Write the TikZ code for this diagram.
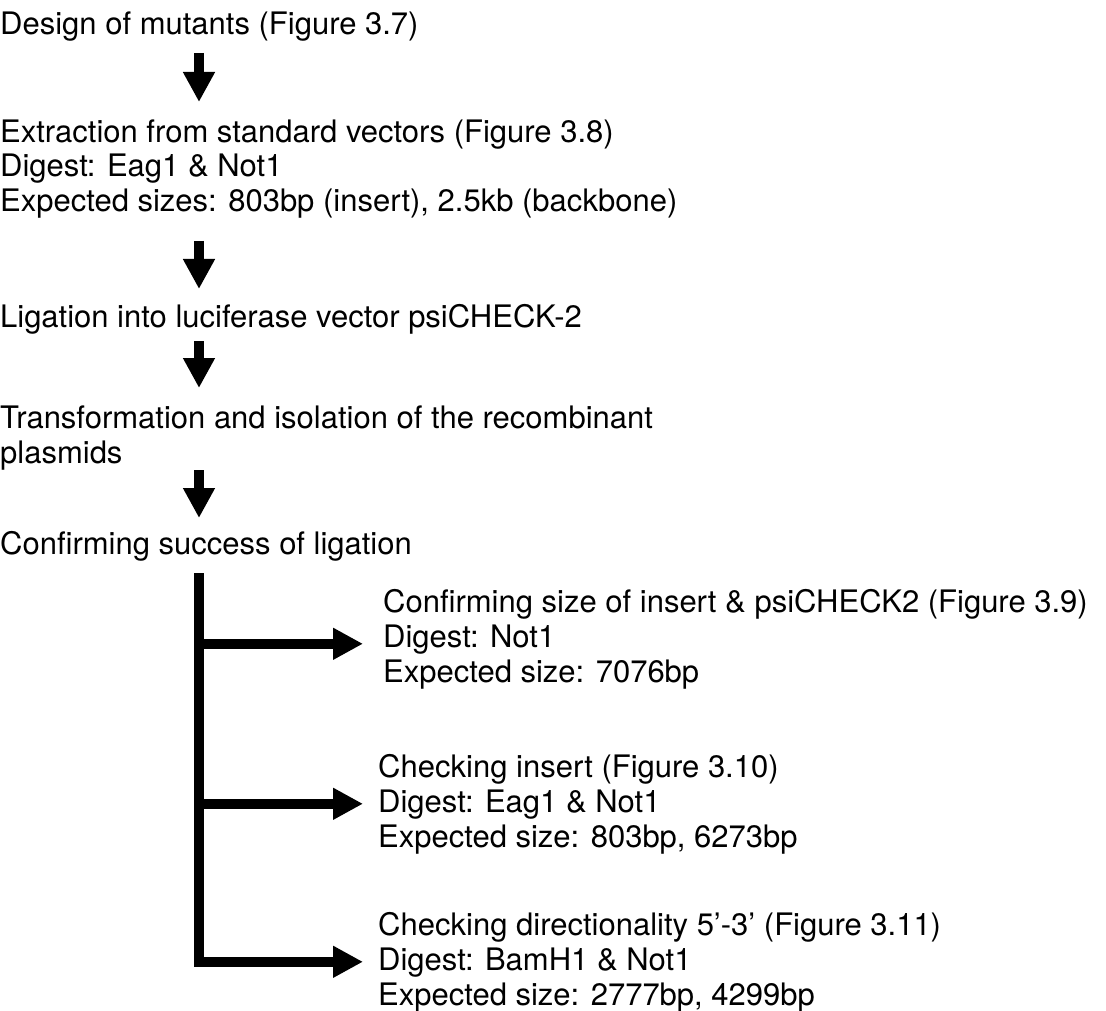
\documentclass[tikz,border=0pt]{standalone}
\usepackage{fontspec}
\setmainfont{TeX Gyre Heros}
\usetikzlibrary{arrows.meta}
\begin{document}
\begin{tikzpicture}[x=1pt,y=-1pt,
	txt/.style={anchor=base west,inner sep=0pt,align=left,font=\fontsize{31}{35}\selectfont},
	bigarrow/.style={line width=10pt,-{Triangle[width=30pt,length=30pt]}},
	bar/.style={line width=10pt,miter limit=10}]
	\useasboundingbox (0,0) rectangle (1106,1011);
	\coordinate (spine) at (199,0);
	\node[txt] (design) at (0,35) {Design of mutants (Figure 3.7)};
	\node[txt] (extract) at (0,212) {Extraction from standard vectors (Figure 3.8)\\
		Digest: Eag1 \& Not1\\
		Expected sizes: 803bp (insert), 2.5kb (backbone)};
	\node[txt] (ligate) at (0,327) {Ligation into luciferase vector psiCHECK-2};
	\node[txt] (transform) at (0,463) {Transformation and isolation of the recombinant\\plasmids};
	\node[txt] (confirm) at (0,554) {Confirming success of ligation};
	\node[txt] (size) at (383,682) {Confirming size of insert \& psiCHECK2 (Figure 3.9)\\
		Digest: Not1\\
		Expected size: 7076bp};
	\node[txt] (insert) at (378,847) {Checking insert (Figure 3.10)\\
		Digest: Eag1 \& Not1\\
		Expected size: 803bp, 6273bp};
	\node[txt] (direct) at (378,1005) {Checking directionality 5'-3' (Figure 3.11)\\
		Digest: BamH1 \& Not1\\
		Expected size: 2777bp, 4299bp};
	\draw[bigarrow,shorten <=18pt,shorten >=110pt] (design.base -| spine) -- (extract.base -| spine);
	\draw[bigarrow,shorten <=29pt,shorten >=38pt] (extract.base -| spine) -- (ligate.base -| spine);
	\draw[bigarrow,shorten <=14pt,shorten >=75pt] (ligate.base -| spine) -- (transform.base -| spine);
	\draw[bigarrow,shorten <=7pt,shorten >=36pt] (transform.base -| spine) -- (confirm.base -| spine);
	\draw[bar,bigarrow,shorten >=15pt] ([yshift=-19pt]confirm.base -| spine) -- (direct.west -| spine) -- (direct.west);
	\draw[bigarrow,shorten <=-5pt,shorten >=20pt] ([yshift=-5pt]size.west -| spine) -- ([yshift=-5pt]size.west);
	\draw[bigarrow,shorten <=-5pt,shorten >=15pt] (insert.west -| spine) -- (insert.west);
\end{tikzpicture}
\end{document}
